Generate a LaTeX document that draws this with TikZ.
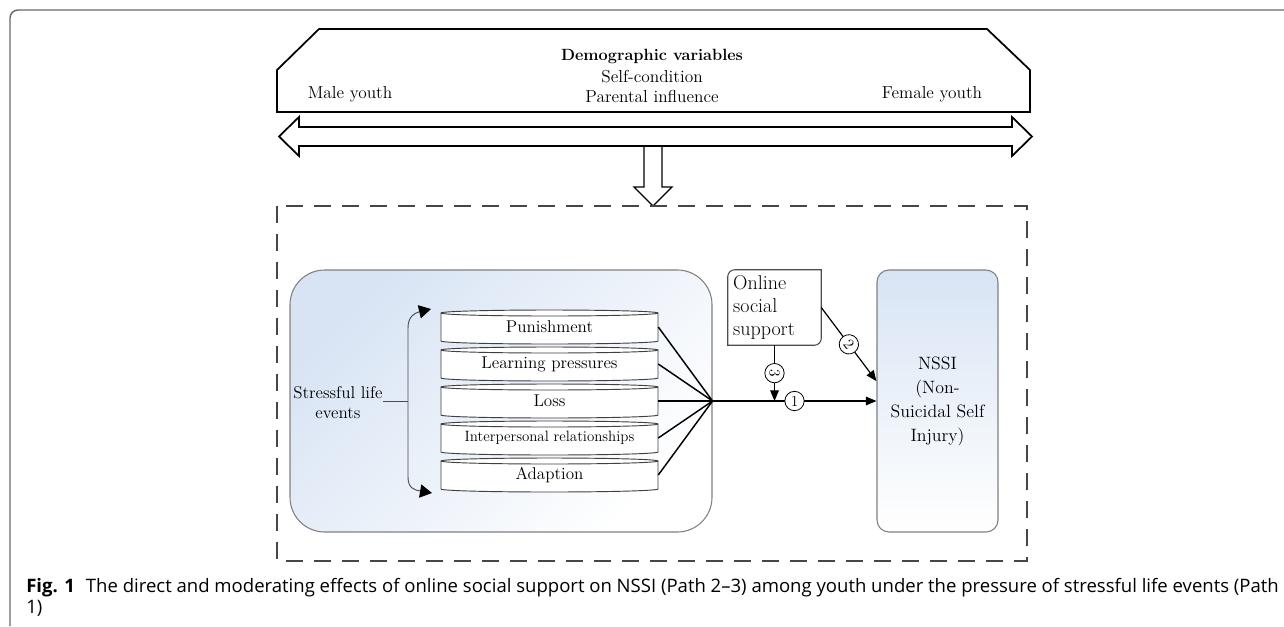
\documentclass[tikz,border=0pt]{standalone}
\usepackage{fontspec}
\newfontfamily\capfont{Open Sans}
\usetikzlibrary{arrows.meta}

\definecolor{boxblue}{RGB}{216,228,244}
\definecolor{framegray}{RGB}{105,105,105}
\definecolor{dashgray}{RGB}{70,70,70}

\tikzstyle{line} = [line width=1.1pt, black]
\tikzstyle{brline} = [line width=0.7pt, black!70]
\tikzstyle{arw} = [-{Triangle[length=8pt,width=6.5pt]}, line width=0.9pt]
\tikzstyle{brarw} = [-{Triangle[length=9pt,width=10pt,color=black,fill=black]}]
\tikzstyle{txt} = [font=\fontsize{13}{15}\selectfont, inner sep=0pt]
\tikzstyle{evbox} = [minimum width=162.75pt, minimum height=25.5pt, inner sep=0pt, font=\fontsize{12.8}{14}\selectfont]
\tikzstyle{cyl} = [draw=black!75, line width=0.7pt]
\tikzstyle{num} = [circle, draw, fill=white, inner sep=0pt, minimum size=14.5pt, line width=0.6pt, font=\fontsize{11.5}{11.5}\selectfont]

\begin{document}
\begin{tikzpicture}[x=0.75pt,y=-0.75pt]
\useasboundingbox (0,0) rectangle (1284,626);

% outer frame
\draw[framegray, line width=1.1pt, rounded corners=6pt] (10,626) -- (10,10) -- (1284,10);

% demographic banner
\draw[line width=1.3pt] (319,29) -- (987,29) -- (1030,70) -- (1030,112) -- (277,112) -- (277,70) -- cycle;
\node[txt, font=\fontsize{12.2}{15}\selectfont\bfseries] (demo) at (652,56) {Demographic variables};
\node[txt] (self) at (652,77) {Self-condition};
\node[txt] (parent) at (652,96) {Parental influence};
\node[txt] (male) at (350,94) {Male youth};
\node[txt] (female) at (932,94) {Female youth};

% block arrows
\draw[line width=1.3pt] (279,136.5) -- (299,117) -- (299,127) -- (1012,127) -- (1012,117) -- (1032,136.5) -- (1012,156) -- (1012,146) -- (299,146) -- (299,156) -- cycle;
\draw[line width=1pt] (644,146) -- (644,187) -- (634,187) -- (653,206) -- (672,187) -- (662,187) -- (662,146);

% dashed frame
\draw[dashgray, line width=1.1pt, dash pattern=on 13pt off 8pt] (277,206) rectangle (1027,561);

% stressful life events group
\node[draw=black!50, line width=0.8pt, rounded corners=26pt, top color=boxblue, bottom color=white, shading angle=45,
      minimum width=316.5pt, minimum height=196.5pt] (grp) at (501,401) {};
\coordinate (hub) at (grp.east);

\foreach \nm/\lbl/\yy in {pun/Punishment/327, lrn/Learning pressures/364, los/Loss/401,
    ipr/{\fontsize{11.2}{12}\selectfont Interpersonal relationships}/438, adp/Adaption/475} {
  \filldraw[cyl, fill=white] (441,\yy-14) -- (441,\yy+14) arc[start angle=180, end angle=360, x radius=81.375pt, y radius=2.25pt]
      -- (658,\yy-14) arc[start angle=0, end angle=180, x radius=81.375pt, y radius=2.25pt] -- cycle;
  \draw[cyl] (441,\yy-14) arc[start angle=180, end angle=360, x radius=81.375pt, y radius=2.25pt];
  \node[evbox] (\nm) at (549.5,\yy) {\lbl};
  \draw[line] (\nm.east) -- (hub);
}

\node[txt, align=center, font=\fontsize{12.8}{15}\selectfont] (sle) at (338,403) {Stressful life\\events};
\coordinate (brc) at (408,401);
\coordinate (brtop) at (431,309);
\coordinate (brbot) at (432,493);
\draw[brline] (sle.east |- brc) -- (brc);
\draw[brline, brarw] (brc) -- (408,328) .. controls (408,317) and (414,313) .. (brtop);
\draw[brline, brarw] (brc) -- (408,477) .. controls (408,488) and (414,490) .. (brbot);

% online social support
\node[minimum width=69.75pt, minimum height=56.25pt, text width=62pt, align=left, inner sep=0pt,
      font=\fontsize{15}{17}\selectfont] (onl) at (774.5,307.5) {Online\\social\\support};
\draw[draw=black!70, line width=0.8pt] (onl.south west) -- ([yshift=-5.25pt]onl.north west) arc[start angle=180, end angle=90, radius=5.25pt]
    -- (onl.north east) -- ([yshift=5.25pt]onl.south east) arc[start angle=0, end angle=-90, radius=5.25pt] -- cycle;

% NSSI
\node[draw=black!50, line width=0.8pt, rounded corners=9pt, top color=boxblue, bottom color=white,
      minimum width=90.75pt, minimum height=196.5pt, align=center, font=\fontsize{13.4}{18}\selectfont] (nssi) at (937.5,401)
      {NSSI\\(Non-\\Suicidal Self\\Injury)};

% paths
\draw[arw] (hub) -- node[num] {1} (nssi.west);
\draw[arw] (onl.south) -- node[num, rotate=-90] {3} (onl.south |- hub);
\draw[arw] (onl.east) -- node[num, rotate=-53] {2} (nssi.162);

% caption
\node[anchor=north west, align=left, inner sep=0pt, font=\capfont\fontsize{13.9}{15.5}\selectfont] (cap) at (26,578)
  {\textbf{Fig. 1}\hspace{0.6em}The direct and moderating effects of online social support on NSSI (Path 2–3) among youth under the pressure of stressful life events (Path\\1)};
\end{tikzpicture}
\end{document}
